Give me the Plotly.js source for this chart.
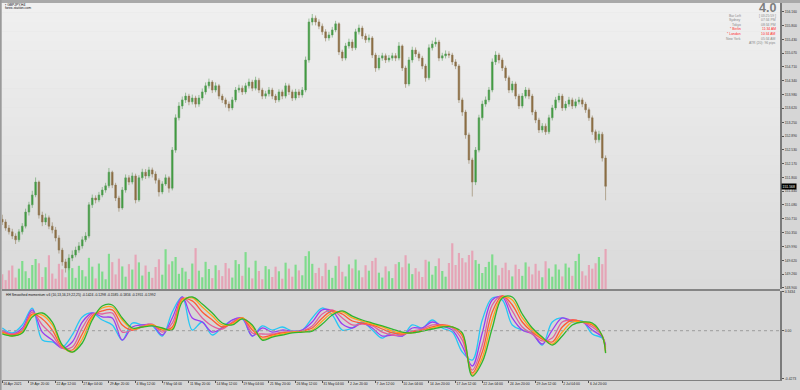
<!DOCTYPE html>
<html><head><meta charset="utf-8">
<script src="https://cdn.plot.ly/plotly-3.0.1.min.js"></script>
<style>html,body{margin:0;padding:0;background:#d6d6d6;overflow:hidden}#chart{width:800px;height:390px}</style>
</head><body><div id="chart"></div>
<script>
// ---------- DATA (GBPJPY, H4, each candle = 2 H4 bars) ----------
const symbolTitle = "GBPJPY,H4";
const open = [150.70,150.63,150.47,150.37,150.26,150.16,150.37,150.52,150.89,151.08,151.34,151.68,150.81,150.63,150.74,150.52,150.42,150.21,149.89,149.58,
149.42,149.68,149.76,149.89,150.00,150.16,150.26,151.08,151.26,151.21,151.34,151.47,151.58,151.94,151.60,151.26,151.00,151.47,151.79,151.68,
151.84,151.21,151.79,151.94,151.84,152.00,151.89,151.73,151.42,151.63,151.79,151.52,152.52,153.37,153.68,153.84,153.94,153.79,153.89,153.73,
153.89,154.05,154.21,154.31,154.10,154.21,153.94,153.84,153.73,153.63,153.84,154.10,154.15,154.05,154.21,154.31,154.15,154.36,154.10,153.94,
154.00,154.10,153.94,153.84,154.05,153.94,154.21,154.05,153.89,154.05,153.97,154.10,154.89,155.89,155.99,155.89,155.78,155.63,155.47,155.55,
155.68,155.84,155.10,154.94,155.26,155.36,155.21,155.63,155.73,155.52,155.42,155.47,155.02,154.68,154.94,155.00,154.89,154.94,155.00,154.94,
155.26,154.68,154.26,154.89,155.15,155.05,154.94,154.73,154.42,155.21,155.31,155.36,154.94,155.00,155.05,155.02,154.84,154.73,153.84,153.52,
152.92,152.26,151.68,152.52,153.37,153.73,153.84,154.10,154.84,155.02,154.89,154.68,154.42,154.10,154.26,153.94,153.68,153.94,154.10,153.94,
153.52,153.31,153.05,153.15,153.00,153.37,153.63,153.84,153.94,153.63,153.73,153.84,153.68,153.79,153.84,153.73,153.58,153.37,153.00,152.79,
152.94,152.31];
const high = [150.82,150.70,150.55,150.45,150.33,150.44,150.60,150.98,151.16,151.45,151.80,151.72,150.90,150.85,150.80,150.62,150.50,150.28,149.95,149.66,
149.78,149.88,149.98,150.10,150.25,150.36,151.15,151.35,151.33,151.42,151.55,151.66,152.05,151.98,151.66,151.32,151.55,151.88,151.86,151.93,
151.90,151.86,152.03,152.02,152.08,152.06,151.96,151.78,151.70,151.88,151.84,152.60,153.46,153.78,153.93,154.03,154.00,153.98,153.95,153.97,
154.14,154.30,154.40,154.36,154.30,154.26,154.00,153.90,153.80,153.92,154.18,154.24,154.22,154.29,154.40,154.37,154.45,154.42,154.16,154.08,
154.18,154.16,154.00,154.12,154.11,154.29,154.27,154.11,154.13,154.12,154.18,154.98,155.98,156.10,156.06,155.96,155.85,155.70,155.63,155.76,
155.92,155.88,155.16,155.34,155.45,155.43,155.71,155.82,155.79,155.59,155.56,155.52,155.08,155.02,155.08,155.06,155.02,155.08,155.07,155.36,
155.30,154.74,154.97,155.24,155.22,155.11,155.00,154.79,155.30,155.40,155.48,155.42,155.08,155.14,155.12,155.08,154.91,154.78,153.90,153.58,
152.98,152.32,152.60,153.45,153.82,153.93,154.18,154.93,155.12,155.08,154.95,154.74,154.48,154.34,154.32,154.00,154.02,154.18,154.16,154.00,
153.58,153.37,153.23,153.22,153.45,153.71,153.92,154.02,154.00,153.81,153.92,153.90,153.87,153.92,153.90,153.79,153.64,153.43,153.06,153.03,
153.00,152.38];
const low = [150.55,150.40,150.30,150.18,150.05,150.10,150.30,150.46,150.80,151.00,151.28,150.72,150.52,150.55,150.44,150.33,150.12,149.80,149.48,149.30,
149.36,149.60,149.70,149.82,149.93,150.10,150.20,151.00,151.12,151.15,151.28,151.40,151.52,151.52,151.18,150.90,150.95,151.40,151.60,151.62,
151.12,151.16,151.72,151.76,151.78,151.80,151.64,151.30,151.36,151.58,151.40,151.46,152.45,153.30,153.60,153.76,153.70,153.72,153.64,153.66,
153.82,153.98,154.14,154.02,154.04,153.86,153.76,153.64,153.54,153.57,153.78,154.03,153.97,153.99,154.14,154.07,154.09,154.02,153.86,153.87,
153.93,153.86,153.76,153.78,153.86,153.88,153.97,153.81,153.83,153.89,153.90,154.04,154.82,155.80,155.80,155.70,155.55,155.38,155.40,155.48,
155.62,155.02,154.86,154.88,155.19,155.13,155.15,155.56,155.44,155.34,155.35,154.94,154.58,154.62,154.87,154.81,154.83,154.87,154.86,154.88,
154.60,154.16,154.20,154.82,154.97,154.86,154.65,154.32,154.36,155.14,155.24,154.86,154.87,154.93,154.94,154.76,154.65,153.76,153.42,152.82,
152.16,151.30,151.60,152.46,153.30,153.66,153.78,154.04,154.76,154.80,154.60,154.34,154.02,154.03,153.86,153.60,153.62,153.88,153.86,153.44,
153.23,152.97,152.98,152.92,152.94,153.30,153.57,153.77,153.55,153.56,153.66,153.60,153.62,153.72,153.65,153.50,153.29,152.92,152.70,152.72,
152.22,151.20];
const close = [150.63,150.47,150.37,150.26,150.16,150.37,150.52,150.89,151.08,151.34,151.68,150.81,150.63,150.74,150.52,150.42,150.21,149.89,149.58,149.42,
149.68,149.76,149.89,150.00,150.16,150.26,151.08,151.26,151.21,151.34,151.47,151.58,151.94,151.60,151.26,151.00,151.47,151.79,151.68,151.84,
151.21,151.79,151.94,151.84,152.00,151.89,151.73,151.42,151.63,151.79,151.52,152.52,153.37,153.68,153.84,153.94,153.79,153.89,153.73,153.89,
154.05,154.21,154.31,154.10,154.21,153.94,153.84,153.73,153.63,153.84,154.10,154.15,154.05,154.21,154.31,154.15,154.36,154.10,153.94,154.00,
154.10,153.94,153.84,154.05,153.94,154.21,154.05,153.89,154.05,153.97,154.10,154.89,155.89,155.99,155.89,155.78,155.63,155.47,155.55,155.68,
155.84,155.10,154.94,155.26,155.36,155.21,155.63,155.73,155.52,155.42,155.47,155.02,154.68,154.94,155.00,154.89,154.94,155.00,154.94,155.26,
154.68,154.26,154.89,155.15,155.05,154.94,154.73,154.42,155.21,155.31,155.36,154.94,155.00,155.05,155.02,154.84,154.73,153.84,153.52,152.92,
152.26,151.68,152.52,153.37,153.73,153.84,154.10,154.84,155.02,154.89,154.68,154.42,154.10,154.26,153.94,153.68,153.94,154.10,153.94,153.52,
153.31,153.05,153.15,153.00,153.37,153.63,153.84,153.94,153.63,153.73,153.84,153.68,153.79,153.84,153.73,153.58,153.37,153.00,152.79,152.94,
152.31,151.568];
const volume = [5200,3100,6500,8200,4000,7100,9800,6200,3800,8400,10500,9000,
4200,7600,11800,5400,3600,8800,6900,4100,9600,7300,3900,8100,
6600,4400,10900,7800,3700,8900,6100,3400,12300,9400,5100,10600,
7900,4300,8700,6800,12000,9300,4700,8200,6000,3900,7700,10400,
5000,13900,8600,9700,11200,5300,7400,6100,3500,8900,14300,6400,
4100,9500,7000,3800,8300,6600,4500,9100,7200,4000,10100,8700,
4600,12900,7500,3700,9900,6300,3400,8000,6900,4200,7800,6200,
3600,9200,7100,4300,8500,6500,4800,11500,13200,8800,5600,7400,
4500,9000,6700,3900,8100,11400,6000,4400,8600,7200,10300,6500,
4100,8300,6400,9800,10900,5700,4000,7900,6200,3800,8700,9400,
7600,11800,8900,5200,7300,6100,4200,10200,9600,5000,8000,10700,
6300,4300,9100,16000,8400,12600,10800,9300,11900,13400,10100,8800,
5600,7700,9500,12100,8300,4800,7400,9200,6600,4400,8500,7000,
4600,9300,7800,5100,8800,6400,4100,9700,7200,4300,8600,6800,
4400,8900,7500,4600,9800,12300,6200,4700,8400,7100,9000,11200,8700,14000];

// time-axis labels and the candle index where each one sits
const timeLabelIndex = [0,8,16,24,32,40,48,56,64,72,80,88,96,104,112,120,128,136,144,152,160,168,176];
const timeLabels = ["16 Apr 2021","19 Apr 20:00","22 Apr 12:00","27 Apr 04:00","29 Apr 20:00","4 May 12:00","7 May 04:00","11 May 20:00",
"14 May 12:00","19 May 04:00","21 May 20:00","26 May 12:00","31 May 04:00","2 Jun 20:00","7 Jun 12:00","10 Jun 04:00","14 Jun 20:00",
"17 Jun 12:00","22 Jun 04:00","24 Jun 20:00","29 Jun 12:00","2 Jul 04:00","6 Jul 20:00"];
const priceTicks = [156.160,155.800,155.430,155.070,154.710,154.340,153.980,153.620,153.250,152.890,152.530,152.170,151.800,151.440,151.080,150.710,150.350,149.990,149.620,149.260,148.900];
const momTicks = [0.3434,0,-0.4273];
const momTickText = ["0.3434","0.00","-0.4273"];

// HH Smoothed momentum (periods 10,13,16,19,22,25), read every 3rd candle
const momX = [0,3,6,9,12,15,18,21,24,27,30,33,36,39,42,45,48,51,54,57,60,63,66,69,72,75,78,81,84,87,90,93,96,99,102,105,108,111,114,117,120,123,126,129,132,135,138,141,144,147,150,153,156,159,162,165,168,171,174,177,180,181];
const mom10 = [0.024,-0.020,0.051,0.201,-0.083,-0.100,-0.145,-0.038,0.122,0.157,0.095,0.051,-0.083,0.068,0.051,0.042,-0.047,0.166,0.299,0.006,0.077,-0.038,0.033,0.095,0.104,-0.047,0.042,0.006,0.033,-0.003,0.006,0.113,0.201,0.139,0.006,0.024,0.077,0.006,-0.065,-0.012,-0.047,0.051,0.024,0.095,0.024,-0.012,-0.189,-0.260,0.095,0.290,0.272,0.051,0.006,-0.020,-0.127,0.077,0.113,0.077,0.086,-0.029,-0.065,-0.1424];
const mom13 = [0.006,-0.029,0.024,0.184,-0.012,-0.083,-0.154,-0.100,0.077,0.157,0.122,0.113,-0.083,0.033,0.051,0.051,-0.038,0.113,0.299,0.113,0.077,-0.012,0.024,0.095,0.113,-0.047,0.024,-0.012,0.006,-0.003,0.006,0.077,0.184,0.175,0.059,0.024,0.068,0.024,-0.047,-0.038,-0.047,0.024,0.024,0.077,0.042,0.006,-0.136,-0.313,-0.020,0.272,0.299,0.113,0.006,-0.029,-0.118,0.006,0.113,0.086,0.077,0.006,-0.056,-0.1298];
const mom16 = [-0.003,-0.029,0.006,0.166,0.051,-0.038,-0.154,-0.145,0.024,0.148,0.148,0.157,-0.012,0.006,0.042,0.059,-0.012,0.068,0.290,0.219,0.113,0.042,0.015,0.077,0.113,-0.020,-0.029,-0.029,-0.012,-0.012,-0.003,0.042,0.148,0.184,0.113,0.051,0.059,0.042,-0.012,-0.038,-0.038,-0.003,0.015,0.051,0.051,0.024,-0.083,-0.349,-0.127,0.228,0.308,0.175,0.033,-0.029,-0.091,-0.065,0.077,0.095,0.077,0.033,-0.047,-0.1585];
const mom19 = [-0.012,-0.038,-0.003,0.148,0.104,0.006,-0.145,-0.171,-0.029,0.130,0.175,0.184,0.051,0.006,0.033,0.051,0.006,0.033,0.281,0.264,0.166,0.095,0.033,0.068,0.113,0.006,-0.056,-0.038,-0.020,-0.012,-0.003,0.024,0.113,0.175,0.148,0.086,0.068,0.051,0.015,-0.020,-0.029,-0.012,0.006,0.033,0.051,0.033,-0.047,-0.375,-0.189,0.166,0.308,0.228,0.077,-0.012,-0.074,-0.100,0.033,0.095,0.077,0.051,-0.047,-0.1816];
const mom22 = [-0.020,-0.047,-0.012,0.139,0.139,0.051,-0.136,-0.189,-0.074,0.113,0.201,0.210,0.095,0.015,0.033,0.051,0.015,0.015,0.272,0.290,0.210,0.130,0.051,0.059,0.113,0.033,-0.074,-0.047,-0.029,-0.012,-0.012,0.006,0.086,0.157,0.166,0.113,0.086,0.059,0.033,-0.003,-0.020,-0.020,-0.003,0.024,0.042,0.033,-0.029,-0.393,-0.242,0.095,0.299,0.272,0.113,0.006,-0.065,-0.118,-0.012,0.077,0.077,0.059,-0.047,-0.1951];
const mom25 = [-0.029,-0.047,-0.020,0.122,0.157,0.077,-0.127,-0.189,-0.109,0.095,0.219,0.228,0.113,0.024,0.033,0.042,0.024,0.006,0.255,0.299,0.237,0.157,0.068,0.051,0.104,0.051,-0.083,-0.056,-0.038,-0.020,-0.012,-0.003,0.059,0.139,0.175,0.130,0.095,0.068,0.042,0.015,-0.012,-0.020,-0.003,0.015,0.033,0.033,-0.020,-0.402,-0.278,0.024,0.290,0.299,0.148,0.024,-0.056,-0.127,-0.047,0.051,0.077,0.068,-0.047,-0.1992];

const infoLabels = ["Bar Left","Sydney","Tokyo","* Berlin","* London","New York"];
const infoValues = ["[ 03:25:59 ]","07:34 PM","08:34 PM","11:34 AM","10:34 AM","05:34 AM"];
const infoRed = [false,false,false,true,true,false];

// ---------- STYLE / LAYOUT ----------
const FONT = "Liberation Sans, Arial, sans-serif";
const SMALL = 3.4;
const W = 800, H = 390, ML = 2, MR = 20, MT = 3, MB = 10;
const PW = W - ML - MR, PH = H - MT - MB;
const ax = px => (px - ML) / PW;
const ay = py => (H - MB - py) / PH;
const mainDom = [ay(289), 1];
const indDom = [0, ay(291)];

const candleX = close.map((_, i) => i);
const volColors = close.map((c, i) => c >= open[i] ? "rgba(70,220,90,0.62)" : "rgba(236,130,160,0.62)");

const traces = [
  {type: "bar", x: candleX, y: volume, xaxis: "x", yaxis: "y", marker: {color: volColors, line: {width: 0}},
   hoverinfo: "skip", showlegend: false},
  {type: "candlestick", x: candleX, open: open, high: high, low: low, close: close, xaxis: "x", yaxis: "y3",
   increasing: {line: {color: "#5c9c5c", width: 0.6}, fillcolor: "#3a9c3a"},
   decreasing: {line: {color: "#8e7a58", width: 0.6}, fillcolor: "#8c6a3e"},
   whiskerwidth: 0, showlegend: false, hoverinfo: "skip"}
];
const momSeries = [[mom10, "#27c6f5"], [mom13, "#9a3cf0"], [mom16, "#e0609e"], [mom19, "#ff5a36"], [mom22, "#ffa31a"], [mom25, "#2fb52f"]];
momSeries.forEach(([arr, col]) => traces.push({type: "scatter", mode: "lines", x: momX, y: arr, xaxis: "x", yaxis: "y2",
  line: {color: col, width: 1.3, shape: "spline", smoothing: 1}, showlegend: false, hoverinfo: "skip"}));

const shapes = [];
// gradient background of the price pane
const NS = 30;
for (let k = 0; k < NS; k++) {
  const t = k / (NS - 1);
  const v = Math.round(240 - t * 22);
  shapes.push({type: "rect", xref: "paper", yref: "paper", x0: 0, x1: 1,
    y0: mainDom[0] + (mainDom[1] - mainDom[0]) * (1 - (k + 1) / NS), y1: mainDom[0] + (mainDom[1] - mainDom[0]) * (1 - k / NS) + 0.001,
    fillcolor: `rgb(${v},${v},${v})`, line: {width: 0}, layer: "below"});
}
shapes.push({type: "rect", xref: "paper", yref: "paper", x0: ax(0), x1: ax(800), y0: 1, y1: ay(0), fillcolor: "#a9a9a9", line: {width: 0}});
shapes.push({type: "rect", xref: "paper", yref: "paper", x0: ax(0), x1: ax(1.6), y0: ay(390), y1: ay(0), fillcolor: "#9a9a9a", line: {width: 0}});
shapes.push({type: "line", xref: "paper", yref: "paper", x0: 0, x1: 1, y0: ay(290), y1: ay(290), line: {color: "#858585", width: 2}});
shapes.push({type: "line", xref: "paper", yref: "y2", x0: 0, x1: 1, y0: 0, y1: 0, line: {color: "#9c9c9c", width: 1, dash: "dot"}});

const annotations = [];
const txt = (px, py, text, opts = {}) => annotations.push(Object.assign({xref: "paper", yref: "paper", x: ax(px), y: ay(py),
  text: text, showarrow: false, xanchor: "left", yanchor: "middle", font: {family: FONT, size: SMALL, color: "#111"}}, opts));
txt(3, 4.6, "\u25AA " + symbolTitle);
txt(3, 8.2, "forex-station.com");
txt(778, 7.8, "<b>4.0</b>", {xanchor: "right", font: {family: FONT, size: 12.5, color: "#7d7d7d"}});
const rowsY = [15.6, 20.2, 24.8, 29.4, 34, 38.6];
infoLabels.forEach((lab, i) => {
  const col = infoRed[i] ? "#ff2a2a" : "#8a8a8a";
  txt(743, rowsY[i], lab, {xanchor: "right", font: {family: FONT, size: SMALL, color: col}});
  txt(778, rowsY[i], infoValues[i], {xanchor: "right", font: {family: FONT, size: SMALL, color: col}});
});
txt(778, 43.2, "ATR (20): 96 pips", {xanchor: "right", font: {family: FONT, size: SMALL, color: "#8a8a8a"}});
const lastVals = momSeries.map(([arr]) => arr[arr.length - 1].toFixed(4)).join(" ");
txt(4, 294.5, "HH Smoothed momentum v.6 (10,13,16,19,22,25) " + lastVals);
annotations.push({xref: "paper", yref: "y3", x: 1, y: close[close.length - 1], xanchor: "left", yanchor: "middle", showarrow: false,
  text: close[close.length - 1].toFixed(3), bgcolor: "#000", borderpad: 0.6, xshift: 1,
  font: {family: FONT, size: SMALL, color: "#fff"}});

const layout = {
  width: W, height: H, margin: {l: ML, r: MR, t: MT, b: MB},
  paper_bgcolor: "#d6d6d6", plot_bgcolor: "#d6d6d6",
  showlegend: false, bargap: 0.35, dragmode: false, hovermode: false,
  xaxis: {range: [-0.08, 233.32], anchor: "y2", rangeslider: {visible: false}, showgrid: false, zeroline: false,
    tickvals: timeLabelIndex, ticktext: timeLabels, tickangle: 0, ticks: "outside", ticklen: 2, tickcolor: "#555", tickwidth: 1,
    ticklabelposition: "outside right", tickfont: {family: FONT, size: SMALL, color: "#222"},
    showline: true, linecolor: "#808080", linewidth: 1},
  yaxis: {domain: mainDom, range: [0, 100000], visible: false, fixedrange: true},
  yaxis3: {overlaying: "y", side: "right", anchor: "x", range: [148.867, 156.389], showgrid: false, zeroline: false,
    tickvals: priceTicks, tickformat: ".3f", ticks: "outside", ticklen: 2, tickcolor: "#555",
    tickfont: {family: FONT, size: SMALL, color: "#333"}, showline: true, linecolor: "#7b7b7b", linewidth: 2},
  yaxis2: {domain: indDom, anchor: "x", side: "right", range: [-0.437, 0.352], showgrid: false, zeroline: false,
    tickvals: momTicks, ticktext: momTickText, ticks: "outside", ticklen: 2, tickcolor: "#555",
    tickfont: {family: FONT, size: SMALL, color: "#333"}, showline: true, linecolor: "#7b7b7b", linewidth: 2},
  shapes: shapes, annotations: annotations
};
Plotly.newPlot("chart", traces, layout, {staticPlot: true, displayModeBar: false});
</script></body></html>
